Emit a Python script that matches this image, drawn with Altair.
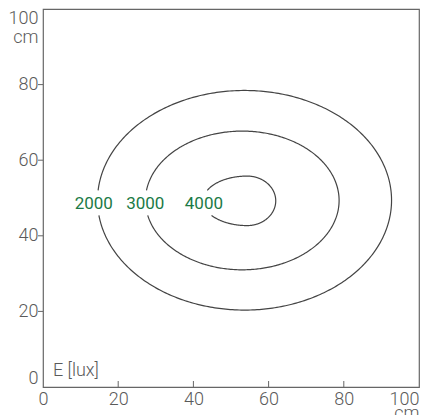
import numpy as np
import pandas as pd
import altair as alt

# ---- values ----
levels = ["2000", "3000", "4000"]
center_x = [53.6, 53.0, 54.3]
center_y = [49.4, 49.35, 49.25]
semi_left = [39.1, 25.75, 11.7]
semi_right = [39.1, 25.75, 7.6]
semi_y = [29.05, 18.35, 6.55]
label_x = [13.5, 27.2, 42.8]
label_y = [48.4, 48.4, 48.4]
gap_top = [52.0, 52.0, 52.0]       # where the curve is broken by its label
gap_bottom = [45.4, 45.4, 45.4]
axis_values = [0, 20, 40, 60, 80, 100]
inner_ticks = [20, 40, 60, 80]
unit_text = ["E [lux]"]
unit_x = [2.65]
unit_y = [4.2]

# ---- build contour paths (broken where the label sits) ----
rows = []
for i, lev in enumerate(levels):
    cx, cy, aL, aR, b = center_x[i], center_y[i], semi_left[i], semi_right[i], semi_y[i]
    s_u = (gap_top[i] - cy) / b
    s_l = (gap_bottom[i] - cy) / b
    t0 = np.pi - np.arcsin(s_l)
    t1 = 3 * np.pi - np.arcsin(s_u)
    ts = np.linspace(t0, t1, 400)
    for k, t in enumerate(ts):
        c = np.cos(t)
        a = aR if c > 0 else aL
        rows.append({"level": lev, "x": cx + a * c, "y": cy + b * np.sin(t), "o": k})
curves = pd.DataFrame(rows)
labels = pd.DataFrame({"level": levels, "x": label_x, "y": label_y})
ticks = pd.DataFrame({"v": inner_ticks})
unit = pd.DataFrame({"t": unit_text, "x": unit_x, "y": unit_y})

W, H = 376, 378
FONT = "Roboto"
LABEL_COLOR = "#5a5a5a"

xscale = alt.Scale(domain=[0, 100], nice=False, zero=False)
yscale = alt.Scale(domain=[0, 100], nice=False, zero=False)

xaxis = alt.Axis(
    values=axis_values, title=None, ticks=False, domain=False, grid=False,
    labelFlush=False, labelPadding=3, labelFontSize=18, labelFont=FONT,
    labelFontWeight=300, labelColor=LABEL_COLOR, labelLineHeight=14,
    labelAlign={"condition": {"test": "datum.value == 100", "value": "right"}, "value": "center"},
    labelExpr="datum.value == 100 ? ['100', 'cm'] : datum.label",
)
yaxis = alt.Axis(
    values=axis_values, title=None, ticks=False, domain=False, grid=False,
    labelFlush=True, labelPadding=5, labelFontSize=18, labelFont=FONT,
    labelFontWeight=300, labelColor=LABEL_COLOR, labelLineHeight=19,
    labelExpr="datum.value == 100 ? ['100', 'cm'] : datum.label",
)

lines = alt.Chart(curves).mark_line(color="#444444", strokeWidth=1.2).encode(
    x=alt.X("x:Q", scale=xscale, axis=xaxis),
    y=alt.Y("y:Q", scale=yscale, axis=yaxis),
    detail="level:N",
    order="o:Q",
)

texts = alt.Chart(labels).mark_text(
    color="#1b7a46", fontSize=17, font=FONT, align="center", baseline="middle"
).encode(x=alt.X("x:Q", scale=xscale), y=alt.Y("y:Q", scale=yscale), text="level:N")

unit_label = alt.Chart(unit).mark_text(
    color=LABEL_COLOR, fontSize=18, font=FONT, fontWeight=300, align="left", baseline="middle"
).encode(x=alt.X("x:Q", scale=xscale), y=alt.Y("y:Q", scale=yscale), text="t:N")

xt = alt.Chart(ticks).mark_rule(color="#666666", strokeWidth=1).encode(
    x=alt.X("v:Q", scale=xscale), y=alt.value(H), y2=alt.value(H - 6)
)
yt = alt.Chart(ticks).mark_rule(color="#666666", strokeWidth=1).encode(
    y=alt.Y("v:Q", scale=yscale), x=alt.value(-5), x2=alt.value(0)
)

chart = alt.layer(lines, texts, unit_label, xt, yt).properties(
    width=W, height=H,
    autosize=alt.AutoSizeParams(type="none"),
    padding={"left": 35, "top": 1, "right": 1, "bottom": 28},
).configure_view(stroke="#666666", strokeWidth=1.2)

chart.save("out.html", embed_options={"renderer": "svg", "actions": False})
